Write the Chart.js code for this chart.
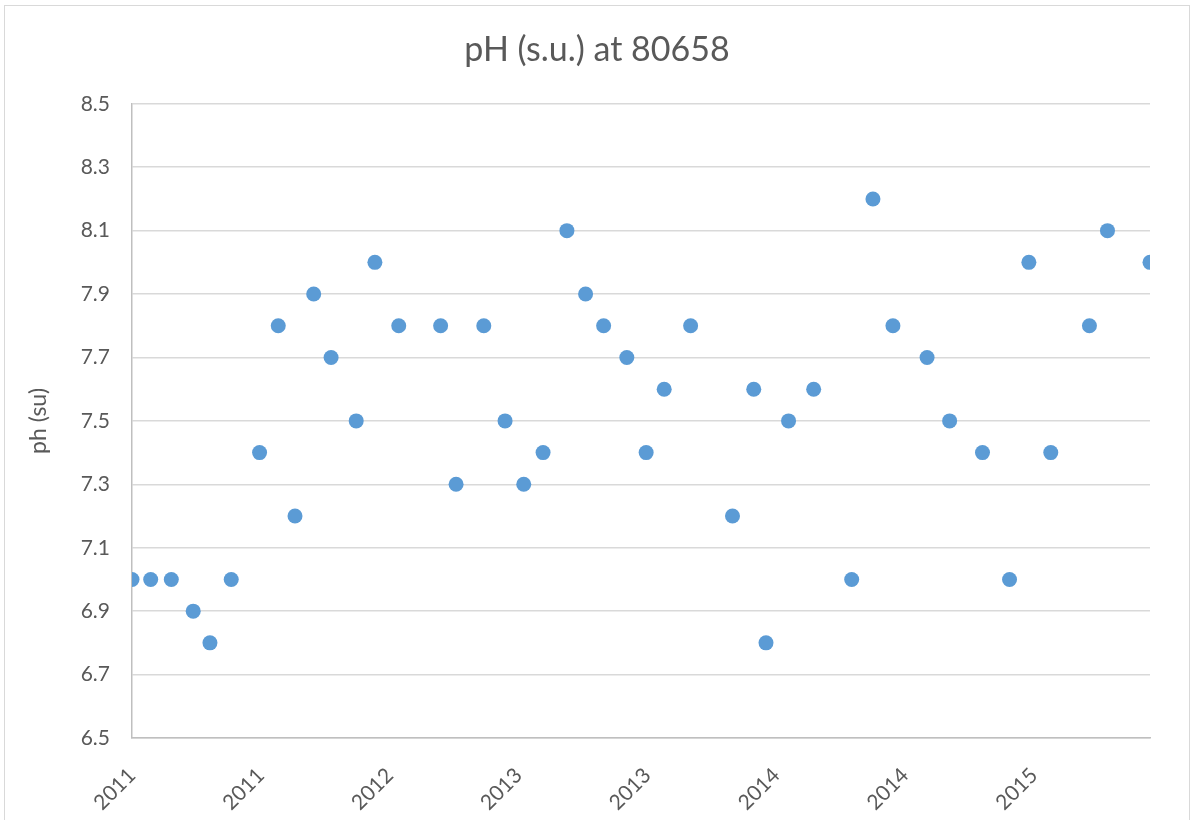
<!doctype html>
<html lang="en">

<head>
    <meta charset="utf-8">
    <title>pH (s.u.) at 80658</title>
    <script src="https://cdn.jsdelivr.net/npm/chart.js"></script>
    <style>
        body { margin: 0; background: #fff; }
        #frame {
            position: absolute;
            left: 4px;
            top: 5px;
            width: 1186px;
            height: 820px;
            border: 1px solid #d9d9d9;
            box-sizing: border-box;
        }
    </style>
</head>

<body>
    <div id="frame">
        <canvas id="ph-chart"></canvas>
    </div>

    <script>
        // days since first sample
        const sampleDays = [0, 29, 61, 95, 121, 154, 198, 227, 253, 282, 309, 348, 377, 414, 479, 503,
            546, 579, 608, 638, 675, 704, 732, 768, 798, 826, 867, 932, 965, 984, 1019, 1058,
            1117, 1150, 1181, 1234, 1269, 1320, 1362, 1392, 1426, 1486, 1514, 1580];
        const phValues = [7.0, 7.0, 7.0, 6.9, 6.8, 7.0, 7.4, 7.8, 7.2, 7.9, 7.7, 7.5, 8.0, 7.8, 7.8, 7.3,
            7.8, 7.5, 7.3, 7.4, 8.1, 7.9, 7.8, 7.7, 7.4, 7.6, 7.8, 7.2, 7.6, 6.8, 7.5, 7.6,
            7.0, 8.2, 7.8, 7.7, 7.5, 7.4, 7.0, 8.0, 7.4, 7.8, 8.1, 8.0];
        const tickDays = [0, 200, 400, 600, 800, 1000, 1200, 1400];
        const tickLabels = ['2011', '2011', '2012', '2013', '2013', '2014', '2014', '2015'];

        const textColor = '#595959';
        const fontFamily = 'Lato, "Open Sans", sans-serif';

        new Chart(document.getElementById('ph-chart'), {
            type: 'scatter',
            data: {
                datasets: [{
                    label: 'pH',
                    data: sampleDays.map((d, i) => ({ x: d, y: phValues[i] })),
                    backgroundColor: '#5b9bd5',
                    borderColor: '#5b9bd5',
                    pointRadius: 7.5,
                    pointHoverRadius: 7.5,
                    borderWidth: 0
                }]
            },
            options: {
                responsive: true,
                maintainAspectRatio: false,
                animation: false,
                layout: { padding: 0 },
                plugins: {
                    legend: { display: false },
                    tooltip: { enabled: false },
                    title: {
                        display: true,
                        text: 'pH (s.u.) at 80658',
                        color: textColor,
                        font: { family: fontFamily, size: 34, weight: 'normal' },
                        padding: { top: 24, bottom: 33 }
                    }
                },
                scales: {
                    x: {
                        type: 'linear',
                        min: 0,
                        max: 1580,
                        afterBuildTicks: scale => {
                            scale.ticks = tickDays.map(v => ({ value: v }));
                        },
                        afterFit: scale => { scale.height = 86; },
                        grid: { display: false },
                        border: { color: '#bfbfbf', width: 1.5 },
                        ticks: {
                            autoSkip: false,
                            maxRotation: 45,
                            minRotation: 45,
                            padding: 17,
                            color: textColor,
                            font: { family: fontFamily, size: 21 },
                            callback: v => tickLabels[tickDays.indexOf(v)] ?? ''
                        }
                    },
                    y: {
                        min: 6.5,
                        max: 8.5,
                        afterFit: scale => { scale.width = 127; },
                        grid: { color: '#d9d9d9', lineWidth: 1.5, drawTicks: false },
                        border: { color: '#bfbfbf', width: 1.5 },
                        ticks: {
                            stepSize: 0.2,
                            padding: 22,
                            color: textColor,
                            font: { family: fontFamily, size: 21 },
                            callback: v => v.toFixed(1)
                        },
                        title: {
                            display: true,
                            text: 'ph (su)',
                            color: textColor,
                            font: { family: fontFamily, size: 23 },
                            padding: { top: 20, bottom: 0 }
                        }
                    },
                    // empty right-hand gap so the title stays centred on the whole chart
                    gap: {
                        position: 'right',
                        min: 6.5,
                        max: 8.5,
                        afterFit: scale => { scale.width = 39; },
                        grid: { display: false },
                        border: { display: false },
                        ticks: { display: false }
                    }
                }
            }
        });
    </script>
</body>

</html>
